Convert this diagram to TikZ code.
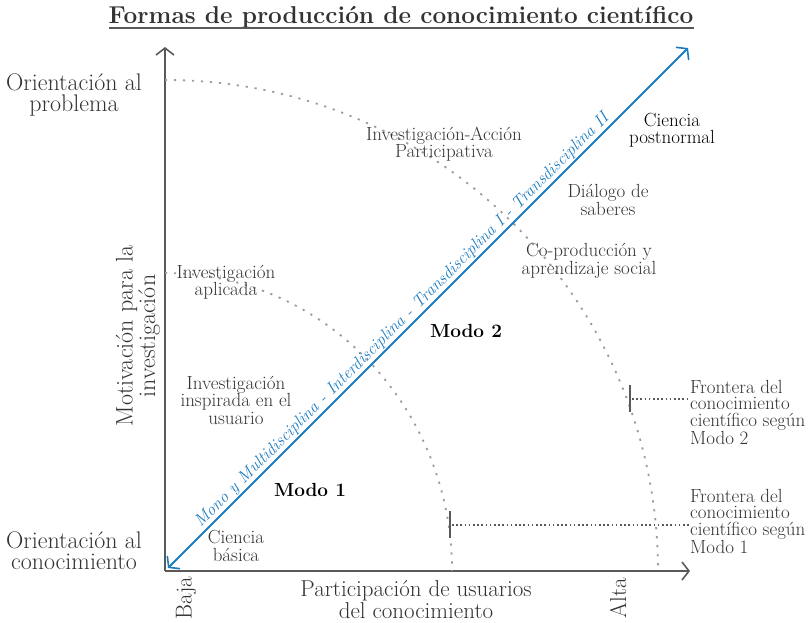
\documentclass[tikz,border=0pt]{standalone}
\usepackage{tikz}
\usetikzlibrary{arrows.meta,positioning}
\definecolor{ejegris}{HTML}{595959}
\definecolor{textogris}{HTML}{333333}
\definecolor{arcogris}{HTML}{9C9C9C}
\definecolor{azuldiag}{HTML}{1B7BC0}
\tikzset{
  eje/.style={draw=ejegris, line width=1.8pt, -{Straight Barb[length=7pt,width=18pt,line width=1.6pt]}},
  arco/.style={draw=arcogris, line width=1.8pt, dash pattern=on 2.2pt off 6.8pt},
  marca/.style={draw=ejegris, line width=2.8pt},
  guia/.style={draw=ejegris, line width=1.6pt, dash pattern=on 1.6pt off 2.6pt},
  etq/.style={align=center, text=textogris, inner sep=0pt, font=\fontsize{19}{17.5}\selectfont},
  etqgrande/.style={align=center, text=textogris, inner sep=0pt, font=\fontsize{24}{21}\selectfont},
  modo/.style={inner sep=0pt, font=\fontsize{19}{19}\selectfont\bfseries},
  frontera/.style={align=left, text=textogris, inner sep=0pt, font=\fontsize{19}{16.5}\selectfont}
}
\begin{document}
\begin{tikzpicture}[x=1pt,y=-1pt]
  \useasboundingbox (0,0) rectangle (809,622);
  %%%%% TITULO %%%%%
  \node[inner sep=0pt, text=textogris, font=\fontsize{24.4}{25}\selectfont\bfseries] (titulo) at (401,17) {Formas de producción de conocimiento científico};
  \draw[ejegris, line width=1.5pt] (titulo.south west) -- (titulo.south east);

  %%%%% EJES %%%%%
  \coordinate (O) at (165,571);
  \coordinate (ytope) at (165,47);
  \coordinate (xfin) at (690,571);
  \draw[eje] (O) -- (ytope);
  \draw[eje] (O) -- (xfin);

  %%%%% FRONTERAS %%%%%
  \draw[arco] (165,273) arc[start angle=-90, end angle=0, x radius=287, y radius=298];
  \draw[arco] (165,80) arc[start angle=-90, end angle=0, x radius=493, y radius=491];

  \draw[marca] (450,511) -- (450,538);
  \draw[marca] (630,385) -- (630,412);
  \coordinate (m1) at (452,525);
  \coordinate (m2) at (632,399);

  \node[frontera, anchor=north west] (front2) at (690,380) {Frontera del\\conocimiento\\científico según\\Modo 2};
  \node[frontera, anchor=north west] (front1) at (690,489) {Frontera del\\conocimiento\\científico según\\Modo 1};
  \draw[guia] (m2) -- (m2 -| front2.west);
  \draw[guia] (m1) -- (m1 -| front1.west);

  %%%%% DIAGONAL %%%%%
  \coordinate (dA) at (168,568);
  \coordinate (dB) at (688,48);
  \draw[azuldiag, line width=1.8pt, {Straight Barb[length=7pt,width=18pt,line width=1.6pt]}-{Straight Barb[length=7pt,width=18pt,line width=1.6pt]}] (dA) -- node[sloped, above=1pt, pos=0.463, inner sep=0pt, text=azuldiag, font=\fontsize{17}{17}\selectfont\itshape] (disciplinas) {Mono y Multidisciplina - Interdisciplina - Transdisciplina I - Transdisciplina II} (dB);

  %%%%% ETIQUETAS %%%%%
  \node[etqgrande] (problema) at (74,95) {Orientación al\\problema};
  \node[etqgrande] (conocimiento) at (74,551) {Orientación al\\conocimiento};
  \node[etqgrande, rotate=90] (motivacion) at (138,336) {Motivación para la\\investigación};
  \node[etqgrande, font=\fontsize{23}{22}\selectfont] (participacion) at (416,600) {Participación de usuarios\\del conocimiento};
  \node[etqgrande, font=\fontsize{23}{22}\selectfont, rotate=90] (baja) at (186,598) {Baja};
  \node[etqgrande, font=\fontsize{23}{22}\selectfont, rotate=90] (alta) at (618,598) {Alta};

  \node[etq] (iap) at (444,144) {Investigación-Acción\\Participativa};
  \node[etq, text=black] (postnormal) at (672,130) {Ciencia\\postnormal};
  \node[etq] (dialogo) at (608,200) {Diálogo de\\saberes};
  \node[etq] (coproduccion) at (589,261) {Co-producción y\\aprendizaje social};
  \node[etq] (aplicada) at (226,282) {Investigación\\aplicada};
  \node[etq] (inspirada) at (236,400) {Investigación\\inspirada en el\\usuario};
  \node[etq] (basica) at (236,546) {Ciencia\\básica};

  \node[modo] (modo2) at (466,331) {Modo 2};
  \node[modo] (modo1) at (310,490) {Modo 1};
\end{tikzpicture}
\end{document}
